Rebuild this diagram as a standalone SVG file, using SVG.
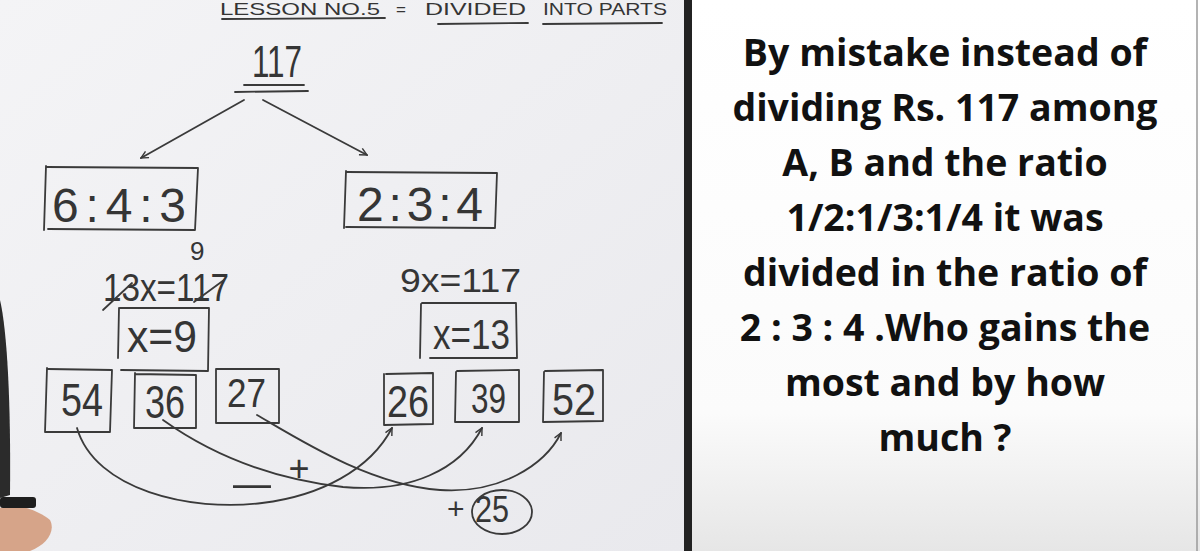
<svg xmlns="http://www.w3.org/2000/svg" width="1200" height="551" viewBox="0 0 1200 551">
<defs>
<linearGradient id="wb" x1="0" y1="0" x2="1" y2="1">
<stop offset="0" stop-color="#f4f4f6"/><stop offset="1" stop-color="#e9e9ed"/>
</linearGradient>
<linearGradient id="pn" x1="0" y1="0" x2="0" y2="1">
<stop offset="0" stop-color="#ffffff"/><stop offset="0.75" stop-color="#fbfbfb"/><stop offset="1" stop-color="#e6e6e6"/>
</linearGradient>
<marker id="ah" viewBox="0 0 10 10" refX="9" refY="5" markerWidth="9" markerHeight="9" markerUnits="userSpaceOnUse" orient="auto">
<path d="M1,1 L9,5 L1,9" fill="none" stroke="#3a3a3a" stroke-width="1.6"/>
</marker>
<style>
.ink{fill:none;stroke:#3a3a3a;stroke-width:1.8;stroke-linecap:round;stroke-linejoin:round}
.hw{font-family:"Liberation Sans","DejaVu Sans",sans-serif;fill:#353535;font-weight:normal}
.q{font-family:"Open Sans","Noto Sans",sans-serif;font-weight:bold;font-size:37.5px;fill:#111;text-anchor:middle}
</style>
</defs>
<rect x="0" y="0" width="688" height="551" fill="url(#wb)"/>
<rect x="692" y="0" width="508" height="551" fill="url(#pn)"/>
<rect x="684" y="0" width="8" height="551" fill="#222"/>
<line x1="1197" y1="0" x2="1197" y2="551" stroke="#9a9a9a" stroke-width="1.5"/>

<g id="title">
<text class="hw" x="220" y="15" font-size="17" textLength="160" lengthAdjust="spacingAndGlyphs">LESSON NO.5</text>
<text class="hw" x="396" y="15" font-size="17">=</text>
<text class="hw" x="425" y="15" font-size="17" textLength="101" lengthAdjust="spacingAndGlyphs">DIVIDED</text>
<text class="hw" x="543" y="15" font-size="17" textLength="124" lengthAdjust="spacingAndGlyphs">INTO PARTS</text>
<path class="ink" d="M222,19 L385,18 M438,24 L528,23 M543,24 L662,23"/>
</g>

<g id="root">
<text class="hw" x="252" y="77" font-size="44" textLength="50" lengthAdjust="spacingAndGlyphs">117</text>
<path class="ink" d="M244,85 L304,85 M235,92 L308,91"/>
</g>

<g id="connectors">
<path class="ink" d="M244,100 L141,158" marker-end="url(#ah)"/>
<path class="ink" d="M263,100 L367,155" marker-end="url(#ah)"/>
<path class="ink" d="M77,428 C95,490 190,512 262,503 C320,496 370,470 392,428" marker-end="url(#ah)"/>
<path class="ink" d="M163,420 C205,450 265,478 343,487 C410,493 460,470 482,428" marker-end="url(#ah)"/>
<path class="ink" d="M257,415 C300,440 370,485 440,490 C500,494 545,465 561,433" marker-end="url(#ah)"/>
</g>

<g id="ratio1">
<path class="ink" d="M46,166 L44,230 M47,167 L198,168 L195,230 L48,229"/>
<text class="hw" x="52" y="222" font-size="48" textLength="134" lengthAdjust="spacing">6:4:3</text>
</g>

<g id="ratio2">
<path class="ink" d="M346,171 L344,228 M347,172 L497,173 L495,228 L346,227"/>
<text class="hw" x="357" y="221" font-size="48" textLength="126" lengthAdjust="spacing">2:3:4</text>
</g>

<g id="eq1">
<text class="hw" x="190" y="260" font-size="26">9</text>
<text class="hw" x="103" y="301" font-size="38" textLength="126" lengthAdjust="spacingAndGlyphs">13x=117</text>
<path class="ink" d="M103,310 L132,283 M194,302 L224,280"/>
</g>

<g id="x9">
<path class="ink" d="M119,308 L118,358 M120,308 L209,308 L208,371 L121,370"/>
<text class="hw" x="127" y="352" font-size="44" textLength="70" lengthAdjust="spacingAndGlyphs">x=9</text>
</g>

<g id="eq2">
<text class="hw" x="400" y="292" font-size="34" textLength="121" lengthAdjust="spacingAndGlyphs">9x=117</text>
</g>

<g id="x13">
<path class="ink" d="M421,304 L420,358 M422,303 L516,303 L517,358 L430,358"/>
<text class="hw" x="433" y="349" font-size="42" textLength="77" lengthAdjust="spacingAndGlyphs">x=13</text>
</g>

<g id="b54">
<path class="ink" d="M47,368 L45,432 L110,432 L112,370 L48,369"/>
<text class="hw" x="61" y="416" font-size="46" textLength="42" lengthAdjust="spacingAndGlyphs">54</text>
</g>
<g id="b36">
<path class="ink" d="M135,373 L134,428 L196,428 L196,375 L135,374"/>
<text class="hw" x="145" y="418" font-size="46" textLength="40" lengthAdjust="spacingAndGlyphs">36</text>
</g>
<g id="b27">
<path class="ink" d="M216,369 L216,423 L279,423 L279,369 Z"/>
<text class="hw" x="227" y="407" font-size="40" textLength="39" lengthAdjust="spacingAndGlyphs">27</text>
</g>
<g id="b26">
<path class="ink" d="M384,374 L384,425 L433,424 L433,373 L386,374"/>
<text class="hw" x="387" y="417" font-size="44" textLength="42" lengthAdjust="spacingAndGlyphs">26</text>
</g>
<g id="b39">
<path class="ink" d="M456,372 L455,422 L519,422 L519,370 L457,371"/>
<text class="hw" x="471" y="413" font-size="42" textLength="35" lengthAdjust="spacingAndGlyphs">39</text>
</g>
<g id="b52">
<path class="ink" d="M544,372 L543,422 L603,421 L603,370 L545,371"/>
<text class="hw" x="552" y="415" font-size="44" textLength="44" lengthAdjust="spacingAndGlyphs">52</text>
</g>

<g id="signs">
<text class="hw" x="299" y="481" font-size="36" text-anchor="middle">+</text>
<text class="hw" x="233" y="497" font-size="40" textLength="38" lengthAdjust="spacingAndGlyphs">–</text>
<text class="hw" x="447" y="519" font-size="30">+</text>
<text class="hw" x="475" y="522" font-size="36" textLength="34" lengthAdjust="spacingAndGlyphs">25</text>
<ellipse class="ink" cx="502" cy="512" rx="30" ry="22"/>
</g>

<g id="person">
<path d="M0,300 C7,330 11,400 10,495 L0,498 Z" fill="#2b2b2b"/>
<path d="M0,508 C18,503 38,510 50,520 C56,532 46,545 30,551 L0,551 Z" fill="#d6a489"/>
<rect x="0" y="497" width="36" height="11" rx="3" fill="#1e1e1e"/>
</g>

<g id="question">
<text class="q" x="945" y="66">By mistake instead of</text>
<text class="q" x="945" y="121">dividing Rs. 117 among</text>
<text class="q" x="945" y="176">A, B and the ratio</text>
<text class="q" x="945" y="231">1/2:1/3:1/4 it was</text>
<text class="q" x="945" y="286">divided in the ratio of</text>
<text class="q" x="945" y="341">2 : 3 : 4 .Who gains the</text>
<text class="q" x="945" y="396">most and by how</text>
<text class="q" x="945" y="451">much ?</text>
</g>
</svg>
